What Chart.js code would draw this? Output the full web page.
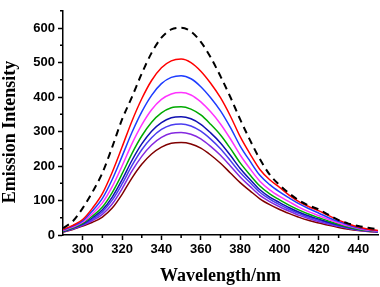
<!DOCTYPE html>
<html lang="en">
<head>
    <meta charset="UTF-8">
    <title>Emission Intensity vs Wavelength</title>
    <script src="https://cdn.jsdelivr.net/npm/chart.js@4.4.0/dist/chart.umd.min.js"></script>
    <style>
        html, body {
            margin: 0;
            padding: 0;
            background: #fff;
        }
        #wrap {
            width: 380px;
            height: 287px;
        }
    </style>
</head>
<body>
    <div id="wrap"><canvas id="emission-chart" width="380" height="287"></canvas></div>

    <script>
        // wavelength (nm), 5 nm steps
        const wavelengths = [290, 295, 300, 305, 310, 315, 320, 325, 330, 335, 340, 345, 350, 355, 360, 365, 370,
                             375, 380, 385, 390, 395, 400, 405, 410, 415, 420, 425, 430, 435, 440, 445, 450];

        const dashedBlack = [20, 40, 78, 125, 180, 255, 335, 400, 468, 528, 572, 596, 601, 590, 560, 515, 460,
                             400, 335, 275, 220, 175, 145, 120, 100, 85, 74, 58, 43, 33, 26, 21, 17];
        const redLine     = [16, 28, 45, 78, 120, 182, 255, 330, 395, 448, 485, 505, 510, 500, 475, 440, 398,
                             345, 285, 235, 190, 160, 138, 115, 96, 82, 70, 56, 43, 32, 23, 17, 13];
        const blueLine    = [14, 26, 41, 70, 106, 161, 228, 297, 357, 405, 439, 457, 462, 453, 430, 398, 360,
                             312, 258, 214, 173, 146, 125, 107, 90, 76, 63, 50, 39, 29, 21, 16, 12];
        const magentaLine = [13, 23, 37, 62, 93, 140, 200, 264, 319, 363, 393, 409, 413, 406, 386, 357, 322,
                             279, 232, 192, 156, 131, 112, 96, 80, 67, 56, 45, 35, 26, 19, 14, 11];
        const greenLine   = [11, 21, 34, 55, 81, 123, 177, 236, 287, 327, 354, 369, 372, 365, 348, 321, 290,
                             251, 209, 174, 142, 119, 102, 86, 72, 60, 50, 40, 31, 23, 17, 13, 10];
        const navyLine    = [10, 20, 32, 50, 73, 110, 160, 216, 264, 301, 326, 340, 343, 337, 321, 296, 267,
                             231, 193, 161, 131, 110, 94, 79, 66, 55, 46, 37, 29, 22, 16, 12, 10];
        const royalLine   = [10, 19, 30, 46, 67, 101, 148, 201, 247, 282, 306, 319, 322, 316, 301, 278, 250,
                             216, 181, 152, 124, 104, 88, 74, 62, 51, 43, 34, 27, 20, 15, 12, 9];
        const violetLine  = [9, 17, 28, 42, 60, 90, 134, 185, 228, 261, 283, 295, 297, 292, 279, 257, 231,
                             200, 168, 141, 115, 97, 82, 69, 57, 47, 39, 31, 25, 19, 14, 11, 9];
        const wineLine    = [8, 16, 26, 37, 52, 78, 118, 165, 205, 235, 255, 266, 268, 264, 252, 232, 208,
                             180, 152, 128, 105, 88, 74, 62, 51, 42, 35, 28, 22, 17, 13, 10, 8];

        const xTickValues = [300, 320, 340, 360, 380, 400, 420, 440];
        const xMinorTicks = [310, 330, 350, 370, 390, 410, 430];
        const yTickValues = [0, 100, 200, 300, 400, 500, 600];
        const yMinorTicks = [50, 150, 250, 350, 450, 550, 650];

        const seriesList = [
            { data: dashedBlack, color: '#000000', dash: [7, 5], width: 2 },
            { data: redLine, color: '#ff0000' },
            { data: blueLine, color: '#1e3cff' },
            { data: magentaLine, color: '#ff33ff' },
            { data: greenLine, color: '#00aa00' },
            { data: navyLine, color: '#1010b0' },
            { data: royalLine, color: '#4a3cf0' },
            { data: violetLine, color: '#8428e0' },
            { data: wineLine, color: '#800000' }
        ];

        const minorTicks = {
            id: 'minorTicks',
            afterDraw(chart) {
                const c = chart.ctx;
                const xs = chart.scales.x, ys = chart.scales.y;
                c.save();
                c.strokeStyle = '#000';
                c.lineWidth = 1.5;
                c.beginPath();
                xMinorTicks.forEach(v => {
                    const px = xs.getPixelForValue(v);
                    c.moveTo(px, ys.bottom);
                    c.lineTo(px, ys.bottom + 3);
                });
                yMinorTicks.forEach(v => {
                    const py = ys.getPixelForValue(v);
                    c.moveTo(xs.left, py);
                    c.lineTo(xs.left - 3, py);
                });
                c.stroke();
                c.restore();
            }
        };

        const tickFont = { family: '"Liberation Sans", Arial, sans-serif', size: 13, weight: 'bold' };
        const titleFont = { family: '"Liberation Serif", "Times New Roman", serif', size: 18, weight: 'bold' };

        new Chart(document.getElementById('emission-chart'), {
            type: 'line',
            data: {
                labels: wavelengths,
                datasets: seriesList.map(s => ({
                    data: s.data.map((v, i) => ({ x: wavelengths[i], y: v })),
                    borderColor: s.color,
                    borderWidth: s.width || 1.5,
                    borderDash: s.dash || [],
                    pointRadius: 0,
                    fill: false,
                    cubicInterpolationMode: 'monotone'
                }))
            },
            options: {
                responsive: false,
                animation: false,
                layout: { padding: { top: 2, right: 2, left: 0, bottom: 0 } },
                plugins: {
                    legend: { display: false },
                    tooltip: { enabled: false }
                },
                scales: {
                    x: {
                        type: 'linear',
                        min: 290,
                        max: 450,
                        afterBuildTicks: scale => { scale.ticks = xTickValues.map(v => ({ value: v })); },
                        afterFit: scale => { scale.height = 52; },
                        grid: { drawOnChartArea: false, color: '#000', tickLength: 5, tickWidth: 1.5 },
                        border: { color: '#000', width: 1.5 },
                        ticks: { color: '#000', font: tickFont, padding: 2, maxRotation: 0 },
                        title: { display: true, text: 'Wavelength/nm', color: '#000', font: titleFont, padding: 0 }
                    },
                    y: {
                        min: 0,
                        max: 650,
                        afterBuildTicks: scale => { scale.ticks = yTickValues.map(v => ({ value: v })); },
                        afterFit: scale => { scale.width = 63; },
                        grid: { drawOnChartArea: false, color: '#000', tickLength: 5, tickWidth: 1.5 },
                        border: { color: '#000', width: 1.5 },
                        ticks: { color: '#000', font: tickFont, padding: 3 },
                        // trailing spaces push the title a little below centre, as in the original
                        title: { display: true, text: 'Emission Intensity\u00a0\u00a0\u00a0\u00a0', color: '#000', font: titleFont, padding: 0 }
                    }
                }
            },
            plugins: [minorTicks]
        });
    </script>
</body>
</html>
